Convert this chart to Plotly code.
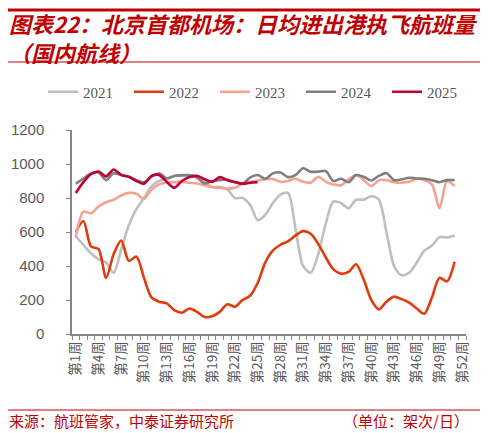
import plotly.graph_objects as go

# ---------------- data (daily avg flights, domestic, by week) ---------------- #
weeks = list(range(1, 53))
week_labels = [f"第{w}周" for w in weeks]

y2021 = [575, 525, 475, 440, 420, 360, 500, 640, 735, 800,
         870, 900, 915, 930, 935, 935, 925, 895, 865, 865,
         850, 800, 800, 760, 670, 700, 770, 820, 830, 620,
         400, 360, 470, 650, 780, 770, 740, 790, 790, 810,
         790, 600, 400, 345, 360, 420, 490, 520, 570, 568, 580]
y2022 = [600, 665, 515, 500, 330, 470, 550, 430, 455, 330,
         215, 190, 180, 140, 125, 150, 130, 100, 105, 130,
         175, 160, 200, 225, 300, 420, 490, 525, 545, 580,
         605, 590, 530, 450, 380, 355, 365, 410, 320, 200,
         145, 190, 220, 205, 185, 150, 119, 215, 330, 310, 425]
y2023 = [570, 720, 710, 750, 775, 790, 815, 830, 825, 795,
         850, 880, 890, 893, 895, 890, 885, 875, 864, 860,
         855, 860, 884, 895, 903, 910, 912, 895, 900, 913,
         895, 890, 925, 895, 880, 875, 910, 935, 905, 870,
         905, 905, 893, 890, 895, 913, 905, 880, 740, 900, 870]
y2024 = [884, 915, 945, 950, 905, 945, 935, 925, 905, 893,
         925, 946, 915, 930, 933, 933, 920, 885, 900, 905,
         907, 895, 884, 920, 935, 913, 945, 950, 923, 935,
         975, 955, 955, 958, 900, 913, 893, 935, 925, 903,
         930, 946, 905, 910, 919, 915, 913, 905, 893, 905, 905]
y2025 = [829, 893, 940, 956, 927, 968, 935, 925, 900, 884,
         930, 935, 895, 860, 900, 923, 930, 910, 895, 923,
         905, 893, 884, 890, 893]

series = [
    ("2021", y2021, "#BFBFBF"),
    ("2022", y2022, "#E03C0C"),
    ("2023", y2023, "#F5A291"),
    ("2024", y2024, "#7F7F7F"),
    ("2025", y2025, "#C00033"),
]

RED = "#C00000"
GREY_TXT = "#595959"
AXIS = "#868686"

W, H = 488, 433
OFF = 8  # page body margin


# screen pixel (as seen in the page) -> paper coords (paper = whole figure, no margins)
def fx(px):
    return (px - OFF) / W


def fy(py):
    return 1 - (py - OFF) / H


fig = go.Figure()

for name, vals, color in series:
    fig.add_trace(go.Scatter(
        x=weeks[:len(vals)], y=vals,
        name=name,
        mode="lines",
        line=dict(color=color, width=2.6, shape="spline", smoothing=0.8),
    ))

# red rules across the page (top, under title, above source), drawn on a full-page helper axis
for py, lw in [(10, 3), (62, 1), (410, 1)]:
    fig.add_trace(go.Scatter(
        x=[fx(8), fx(483)], y=[fy(py), fy(py)],
        xaxis="x2", yaxis="y2", mode="lines",
        line=dict(color=RED, width=lw),
        showlegend=False, hoverinfo="skip",
    ))

annotations = [
    dict(text="<i>图表22：北京首都机场：日均进出港执飞航班量<br>（国内航线）</i>",
         xref="paper", yref="paper", align="left",
         x=fx(7), y=fy(37), xanchor="left", yanchor="middle", showarrow=False,
         font=dict(family="Noto Sans CJK SC", size=22, color=RED, weight=700)),
    dict(text="来源：航班管家，中泰证券研究所", xref="paper", yref="paper",
         x=fx(7), y=fy(420), xanchor="left", yanchor="middle", showarrow=False,
         font=dict(family="Noto Sans CJK SC", size=15, color=RED)),
    dict(text="（单位：架次/日）", xref="paper", yref="paper",
         x=fx(471), y=fy(420), xanchor="right", yanchor="middle", showarrow=False,
         font=dict(family="Noto Sans CJK SC", size=15, color=RED)),
]

fig.update_layout(
    width=W, height=H,
    margin=dict(l=0, r=0, t=0, b=0, pad=0, autoexpand=False),
    paper_bgcolor="white", plot_bgcolor="rgba(0,0,0,0)",
    showlegend=True,
    legend=dict(orientation="h", x=fx(43), y=fy(92), xanchor="left", yanchor="middle",
                entrywidth=41, entrywidthmode="pixels", traceorder="normal",
                font=dict(family="Liberation Serif", size=15, color=GREY_TXT),
                bgcolor="rgba(0,0,0,0)"),
    annotations=annotations,
    xaxis=dict(
        domain=[fx(72), fx(466)],
        range=[0.5, 52.5],
        tickmode="array", tickvals=weeks[::3], ticktext=week_labels[::3],
        tickangle=-90, ticks="",
        tickfont=dict(family="Noto Sans CJK SC", size=13.5, color=GREY_TXT),
        minor=dict(ticks="outside", tick0=0.5, dtick=1, ticklen=4, tickcolor=AXIS, tickwidth=1),
        showline=True, linecolor=AXIS, linewidth=1.5,
        showgrid=False, zeroline=False,
    ),
    yaxis=dict(
        domain=[fy(334), fy(130)],
        range=[0, 1200], dtick=200,
        ticks="outside", ticklen=4, tickcolor=AXIS, tickwidth=1,
        tickfont=dict(family="Liberation Sans", size=15, color=GREY_TXT),
        showline=True, linecolor=AXIS, linewidth=1.5,
        showgrid=False, zeroline=False,
        ticklabelstandoff=19,
    ),
    xaxis2=dict(domain=[0, 1], range=[0, 1], anchor="y2", visible=False, fixedrange=True),
    yaxis2=dict(domain=[0, 1], range=[0, 1], anchor="x2", visible=False, fixedrange=True),
)

fig.write_html("out.html")
